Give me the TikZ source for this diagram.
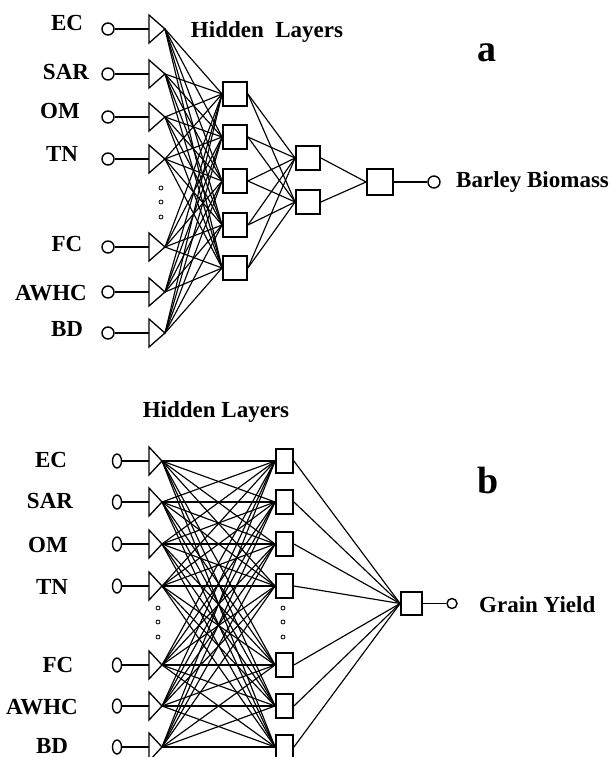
\documentclass[tikz,border=0pt]{standalone}
\usepackage{fontspec}
\setmainfont{Liberation Serif}
\usetikzlibrary{shapes.geometric}
\begin{document}
\begin{tikzpicture}[x=1pt,y=-1pt,
  lbl/.style={font=\bfseries\fontsize{23}{25}\selectfont, inner sep=0pt, anchor=base},
  tag/.style={font=\bfseries\fontsize{38}{40}\selectfont, inner sep=0pt, anchor=base},
  unit/.style={draw, line width=1.8pt, inner sep=0pt, fill=white},
  io/.style={draw, circle, line width=1.4pt, minimum size=12pt, inner sep=0pt},
  iob/.style={draw, ellipse, line width=1.4pt, minimum width=9pt, minimum height=14pt, inner sep=0pt},
  tri/.style={line width=1.3pt, line join=miter},
  wire/.style={line width=1.15pt},
  lead/.style={line width=1.6pt},
  dot/.style={draw, circle, line width=0.8pt, minimum size=4pt, inner sep=0pt}]
\useasboundingbox (0,0) rectangle (615,757);

% ---------------- network a ----------------
\node[lbl] (a-title) at (267,38) {Hidden~ Layers};
\node[tag] (a-tag) at (487,62) {a};

\foreach \i/\y/\lx/\ly/\t in {1/29/67/31/EC, 2/74/66/80/SAR, 3/117/60/119/OM,
    4/159/62/161/TN, 5/247/67/251/FC, 6/292/51/300/AWHC, 7/333/67/336/BD} {
  \node[lbl] (a-lab-\i) at (\lx,\ly) {\t};
  \node[io] (a-in-\i) at (108,\y) {};
  \coordinate (a-base-\i) at (149,\y);
  \coordinate (a-tip-\i) at (165,\y);
  \draw[tri] (149,\y-14) -- (a-tip-\i) -- (149,\y+14) -- cycle;
  \draw[lead] (a-in-\i) -- (a-base-\i);
}
\node[dot] (a-d1) at (161,188) {};
\node[dot] (a-d2) at (161,202) {};
\node[dot] (a-d3) at (161,217) {};

\foreach \j/\y in {1/94, 2/137, 3/181, 4/225, 5/268}
  \node[unit, minimum width=24pt, minimum height=24pt] (a-h-\j) at (235,\y) {};
\foreach \k/\y in {1/158, 2/202}
  \node[unit, minimum width=24pt, minimum height=24pt] (a-g-\k) at (308,\y) {};
\node[unit, minimum width=26pt, minimum height=26pt] (a-out) at (380,182) {};
\node[io] (a-res) at (434,182) {};
\node[lbl, anchor=base west] (a-res-lab) at (456,187) {Barley Biomass};

\foreach \i in {1,...,7}
  \foreach \j in {1,...,5}
    \draw[wire] (a-tip-\i) -- (a-h-\j.west);
\foreach \j in {1,...,5}
  \foreach \k in {1,2}
    \draw[wire] (a-h-\j.east) -- (a-g-\k.west);
\foreach \k in {1,2}
  \draw[wire] (a-g-\k.east) -- (a-out.west);
\draw[wire] (a-out) -- (a-res);

% ---------------- network b ----------------
\node[lbl] (b-title) at (216,417) {Hidden Layers};
\node[tag] (b-tag) at (488,493) {b};

\foreach \i/\y/\lx/\ly/\t in {1/461/51/467/EC, 2/502/50/508/SAR, 3/544/48/552/OM,
    4/586/52/594/TN, 5/665/58/672/FC, 6/706/42/714/AWHC, 7/747/52/753/BD} {
  \node[lbl] (b-lab-\i) at (\lx,\ly) {\t};
  \node[iob] (b-in-\i) at (117,\y) {};
  \coordinate (b-base-\i) at (149,\y);
  \coordinate (b-tip-\i) at (162,\y);
  \draw[tri] (149,\y-14) -- (b-tip-\i) -- (149,\y+14) -- cycle;
  \draw[lead] (b-in-\i) -- (b-base-\i);
  \node[unit, minimum width=17pt, minimum height=24pt] (b-h-\i) at (284.5,\y) {};
}
\node[dot] (b-d1) at (158,608) {};
\node[dot] (b-d2) at (158,622) {};
\node[dot] (b-d3) at (158,637) {};
\node[dot] (b-e1) at (283,608) {};
\node[dot] (b-e2) at (283,622) {};
\node[dot] (b-e3) at (283,637) {};

\node[unit, minimum width=21pt, minimum height=23pt] (b-out) at (411.5,603.5) {};
\node[io, minimum size=10pt] (b-res) at (452,603.5) {};
\node[lbl, anchor=base west] (b-res-lab) at (479,612) {Grain Yield};

\foreach \i in {1,...,7}
  \foreach \j in {1,...,7}
    \draw[wire] (b-tip-\i) -- (b-h-\j.west);
\foreach \j in {1,...,7}
  \draw[wire] (b-h-\j.east) -- (b-out.west);
\draw[wire] (b-out) -- (b-res);
\end{tikzpicture}
\end{document}
